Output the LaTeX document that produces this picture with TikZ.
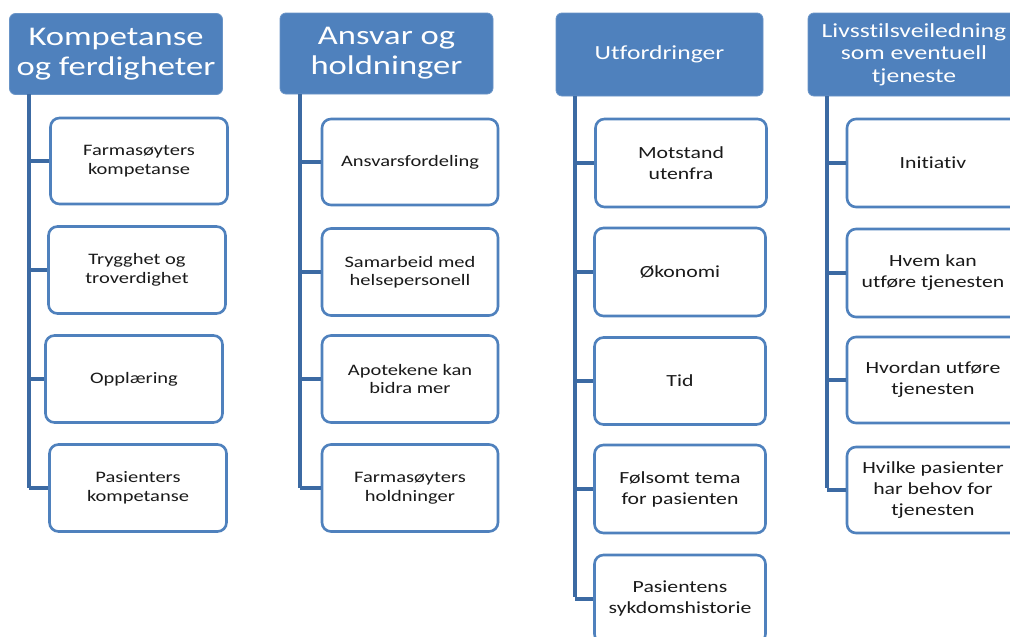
\documentclass[tikz,border=0pt]{standalone}
\usepackage{fontspec}
\setmainfont[FakeStretch=1.28,Ligatures=NoCommon]{Carlito}
\definecolor{hdr}{HTML}{4F81BD}
\definecolor{bord}{HTML}{4F81BD}
\definecolor{trunk}{HTML}{3C6AA3}
\definecolor{txt}{HTML}{1A1A1A}
\tikzset{
  hdrbox/.style={fill=hdr, draw=hdr!85!white, line width=0.8pt, rounded corners=6pt, text=white, align=center, inner sep=0pt},
  leafbox/.style={draw=bord, line width=2.6pt, fill=white, rounded corners=9pt, text=txt, align=center, inner sep=0pt},
  link/.style={draw=trunk, line width=3.4pt},
  big/.style={font=\fontsize{27}{30}\selectfont},
  mid/.style={font=\fontsize{20}{22.5}\selectfont},
  small/.style={font=\fontsize{16}{18.5}\selectfont},
  medium/.style={font=\fontsize{17}{21}\selectfont},
}
\begin{document}
\begin{tikzpicture}[x=1pt,y=-1pt]
\clip (0,0) rectangle (1010,637);
\fill[white] (0,0) rectangle (1010,637);

% ---------- Column 1 ----------
\node[hdrbox, big, minimum width=213pt, minimum height=81pt] (h1) at (116,54) {Kompetanse\\og ferdigheter};
\coordinate (t1) at (29,94);
\coordinate (b1) at (29,488);
\node[leafbox, small, minimum width=177pt, minimum height=86pt] (c11) at (139,161) {Farmasøyters\\kompetanse};
\node[leafbox, small, minimum width=177pt, minimum height=87pt] (c12) at (137,270) {Trygghet og\\troverdighet};
\node[leafbox, small, minimum width=177pt, minimum height=87pt] (c13) at (134,379) {Opplæring};
\node[leafbox, small, minimum width=177pt, minimum height=87pt] (c14) at (138,488) {Pasienters\\kompetanse};
\draw[link] (t1) -- (b1);
\foreach \c in {c11,c12,c13,c14} \draw[link] (t1 |- \c.west) -- (\c.west);

% ---------- Column 2 ----------
\node[hdrbox, big, minimum width=213pt, minimum height=81pt] (h2) at (386.5,53.5) {Ansvar og\\holdninger};
\coordinate (t2) at (300,94);
\coordinate (b2) at (300,488);
\node[leafbox, small, minimum width=176pt, minimum height=86pt] (c21) at (410,162) {Ansvarsfordeling};
\node[leafbox, small, minimum width=176pt, minimum height=87pt] (c22) at (410,272) {Samarbeid med\\helsepersonell};
\node[leafbox, small, minimum width=176pt, minimum height=87pt] (c23) at (410,379) {Apotekene  kan\\bidra mer};
\node[leafbox, small, minimum width=176pt, minimum height=87pt] (c24) at (410,488) {Farmasøyters\\holdninger};
\draw[link] (t2) -- (b2);
\foreach \c in {c21,c22,c23,c24} \draw[link] (t2 |- \c.west) -- (\c.west);

% ---------- Column 3 ----------
\node[hdrbox, mid, minimum width=207pt, minimum height=83pt] (h3) at (659.5,54.5) {Utfordringer};
\coordinate (t3) at (575,96);
\coordinate (b3) at (575,597);
\node[leafbox, medium, minimum width=171pt, minimum height=88pt] (c31) at (681,163) {Motstand\\utenfra};
\node[leafbox, medium, minimum width=171pt, minimum height=88pt] (c32) at (680,272) {Økonomi};
\node[leafbox, medium, minimum width=171pt, minimum height=87pt] (c33) at (680,381) {Tid};
\node[leafbox, medium, minimum width=171pt, minimum height=88pt] (c34) at (680,489) {Følsomt tema\\for pasienten};
\node[leafbox, medium, minimum width=171pt, minimum height=88pt] (c35) at (680,599) {Pasientens\\sykdomshistorie};
\draw[link] (t3) -- (b3);
\foreach \c in {c31,c32,c33,c34,c35} \draw[link] (t3 |- \c.west) -- (\c.west);

% ---------- Column 4 ----------
\node[hdrbox, mid, minimum width=212pt, minimum height=83pt] (h4) at (914,54.5) {Livsstilsveiledning\\som eventuell\\tjeneste};
\coordinate (t4) at (827,96);
\coordinate (b4) at (827,488);
\node[leafbox, medium, minimum width=172pt, minimum height=88pt] (c41) at (933,163) {Initiativ};
\node[leafbox, medium, minimum width=172pt, minimum height=88pt] (c42) at (933,273) {Hvem kan\\utføre tjenesten};
\node[leafbox, medium, minimum width=172pt, minimum height=86pt] (c43) at (933,380) {Hvordan utføre\\tjenesten};
\node[leafbox, medium, minimum width=172pt, minimum height=86pt] (c44) at (933,490) {Hvilke pasienter\\har behov for\\tjenesten};
\draw[link] (t4) -- (b4);
\foreach \c in {c41,c42,c43,c44} \draw[link] (t4 |- \c.west) -- (\c.west);
\end{tikzpicture}
\end{document}
